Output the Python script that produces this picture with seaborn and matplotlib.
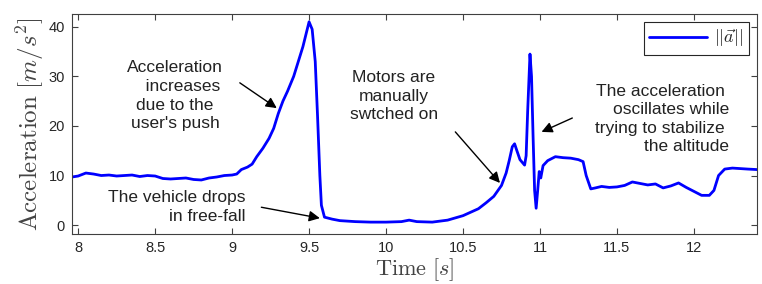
import numpy as np
import pandas as pd
import seaborn as sns
import matplotlib.pyplot as plt
from matplotlib.ticker import FormatStrFormatter

# values
time_s = [
    7.96, 8.0, 8.05, 8.1, 8.15, 8.2, 8.25, 8.3, 8.35, 8.4, 8.45, 8.5, 8.55, 8.6,
    8.65, 8.7, 8.75, 8.8, 8.85, 8.9, 8.95, 9.0, 9.03, 9.06, 9.1, 9.13, 9.16, 9.2,
    9.24, 9.27, 9.3, 9.33, 9.36, 9.4, 9.43, 9.46, 9.48, 9.5, 9.52, 9.54, 9.555,
    9.57, 9.58, 9.6, 9.65, 9.7, 9.8, 9.9, 10.0, 10.1, 10.15, 10.2, 10.3, 10.4,
    10.5, 10.55, 10.6, 10.65, 10.7, 10.75, 10.78, 10.8, 10.82, 10.835, 10.85,
    10.87, 10.9, 10.91, 10.92, 10.935, 10.945, 10.955, 10.965, 10.975, 10.985,
    10.995, 11.005, 11.02, 11.05, 11.1, 11.15, 11.2, 11.25, 11.28, 11.3, 11.33,
    11.36, 11.4, 11.45, 11.5, 11.55, 11.6, 11.65, 11.7, 11.75, 11.8, 11.85, 11.9,
    11.95, 12.0, 12.05, 12.1, 12.13, 12.16, 12.2, 12.25, 12.3, 12.35, 12.41,
]
accel = [
    9.7, 9.9, 10.5, 10.3, 10.0, 10.1, 9.9, 10.0, 10.1, 9.8, 10.0, 9.9, 9.4, 9.3,
    9.4, 9.5, 9.2, 9.1, 9.5, 9.7, 10.0, 10.1, 10.3, 11.2, 11.7, 12.3, 13.8, 15.5,
    17.5, 19.5, 22.5, 25.0, 27.0, 30.0, 33.0, 36.0, 38.5, 41.0, 39.5, 33.0, 22.0,
    10.0, 4.0, 1.6, 1.2, 0.9, 0.7, 0.6, 0.6, 0.7, 1.0, 0.7, 0.6, 1.0,
    1.9, 2.6, 3.3, 4.5, 5.8, 8.0, 10.5, 13.0, 15.8, 16.4, 15.0,
    13.2, 12.1, 14.0, 23.0, 34.5, 30.0, 18.0, 7.0, 3.4, 7.0,
    10.8, 9.5, 12.0, 13.0, 13.8, 13.6, 13.5, 13.2, 12.8, 10.0, 7.3,
    7.5, 7.8, 7.6, 7.7, 8.0, 8.7, 8.4, 8.1, 8.3, 7.5, 7.9, 8.5,
    7.6, 6.8, 6.0, 6.0, 7.0, 10.0, 11.3, 11.5, 11.4, 11.3, 11.2,
]
series_label = r"$||\vec{a}||$"

sns.set_style("white")
plt.rcParams["font.family"] = ["Liberation Sans", "DejaVu Sans"]
plt.rcParams["mathtext.fontset"] = "cm"

df = pd.DataFrame({"t": time_s, "a": accel})

fig = plt.figure(figsize=(7.62, 2.84), dpi=100)
ax = fig.add_axes([0.0945, 0.176, 0.899, 0.775])
sns.lineplot(data=df, x="t", y="a", color="blue", lw=2, label=series_label, ax=ax)

gray = "#262626"
ax.set_xlim(7.96, 12.41)
ax.set_ylim(-1.8, 42.6)
ax.set_xticks(np.arange(8, 12.01, 0.5))
ax.set_yticks([0, 10, 20, 30, 40])
ax.xaxis.set_major_formatter(FormatStrFormatter("%g"))
ax.tick_params(direction="in", bottom=True, left=True, top=True, right=True,
               length=4, width=0.8, labelsize=10.5, colors="#404040",
               labelcolor=gray, pad=5)
for s in ax.spines.values():
    s.set_color("#404040")
    s.set_linewidth(0.8)

ax.set_xlabel(r"$\mathrm{Time}\ [s]$", fontsize=16, color="#444444", labelpad=1)
ax.set_ylabel(r"$\mathrm{Acceleration}\ [m/s^2]$", fontsize=18, color="#444444", labelpad=2)

leg = ax.legend(loc="upper right", fontsize=13, fancybox=False, handlelength=3.2,
                borderaxespad=0.45, framealpha=1, borderpad=0.3, handletextpad=0.4)
leg.get_frame().set_edgecolor(gray)
leg.get_frame().set_linewidth(0.8)

arrow = dict(arrowstyle="-|>", color="k", lw=1, mutation_scale=16, shrinkA=0, shrinkB=0)
txt = dict(fontsize=12.5, color="#222222", linespacing=1.3, va="center")

ax.text(8.63, 26.1, "Acceleration\n   increases\ndue to the\nuser's push", ha="center", **txt)
ax.annotate("", xy=(9.29, 23.6), xytext=(9.05, 28.7), arrowprops=arrow)
ax.text(9.09, 3.6, "The vehicle drops\nin free-fall", ha="right", multialignment="right", **txt)
ax.annotate("", xy=(9.57, 1.4), xytext=(9.19, 3.6), arrowprops=arrow)
ax.text(10.05, 26.0, "Motors are\nmanually\nswtched on", ha="center", **txt)
ax.annotate("", xy=(10.74, 8.5), xytext=(10.45, 18.8), arrowprops=arrow)
ax.text(12.23, 21.4, "The acceleration \noscillates while\ntrying to stabilize \nthe altitude",
        ha="right", multialignment="right", **txt)
ax.annotate("", xy=(11.01, 18.8), xytext=(11.21, 21.6), arrowprops=arrow)

fig.savefig("out.png", dpi=100)
